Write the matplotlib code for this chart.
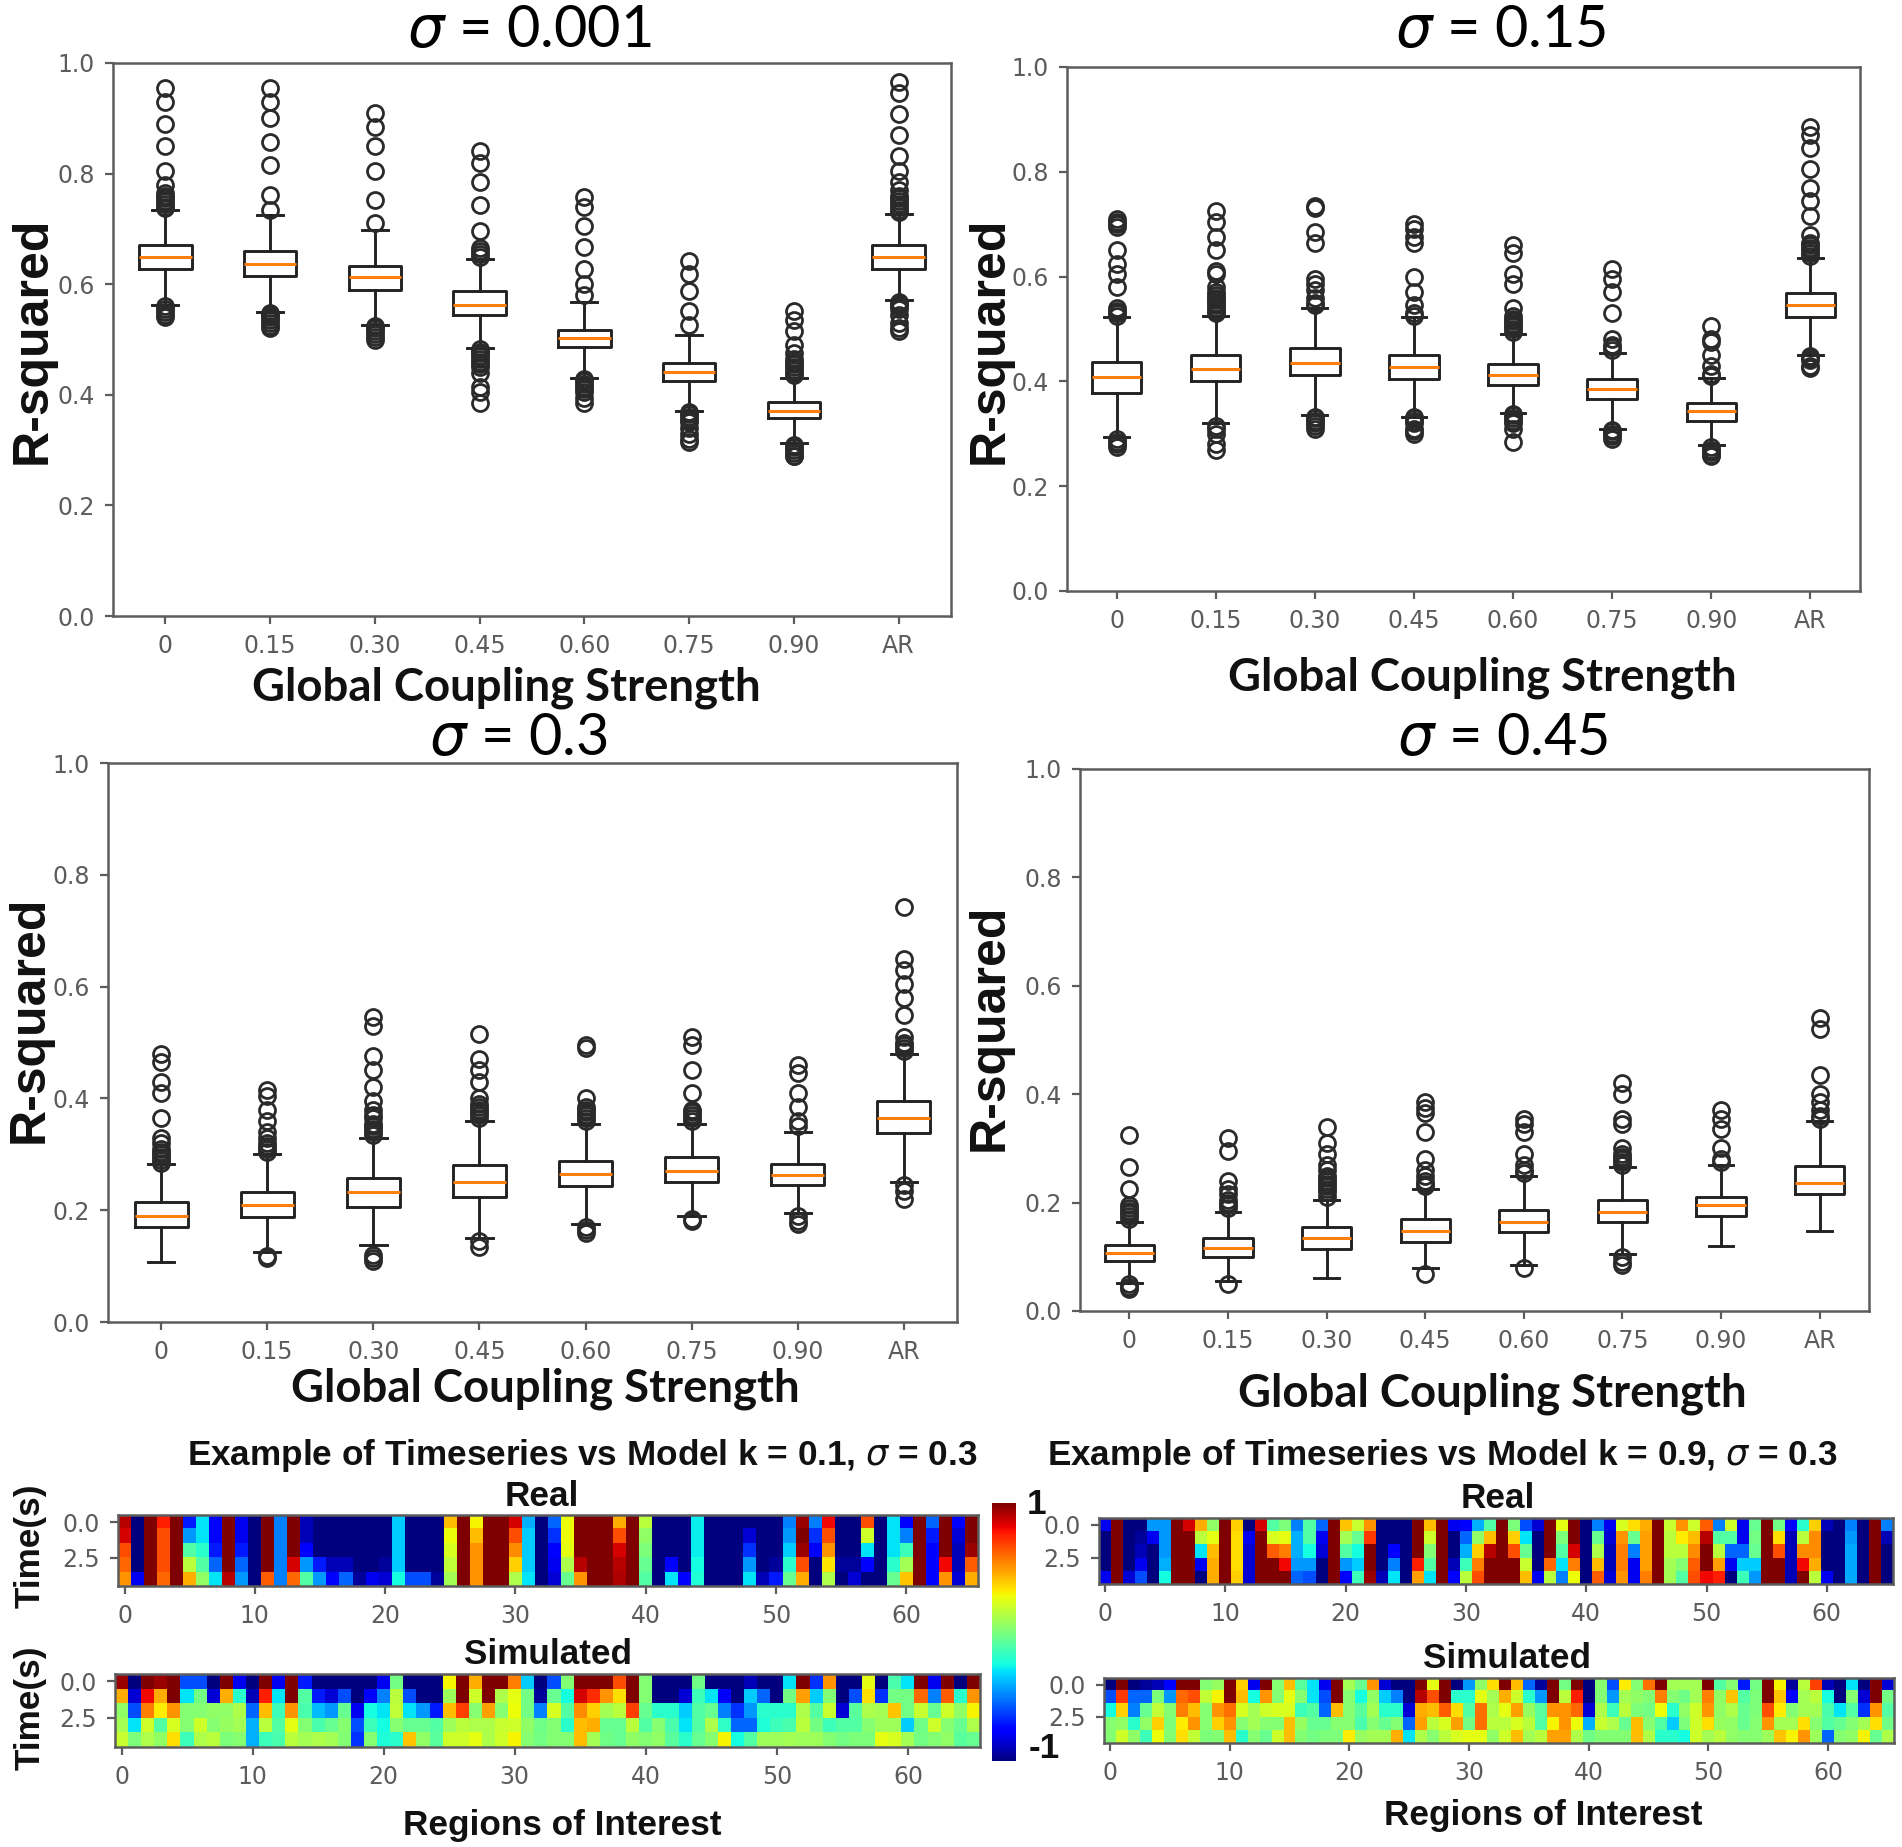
import numpy as np
import matplotlib
matplotlib.use("Agg")
import matplotlib.pyplot as plt

W, H = 1902, 1847
categories = ["0", "0.15", "0.30", "0.45", "0.60", "0.75", "0.90", "AR"]

# ---- box statistics: one list per quantity, one entry per category
p1_med = [.650, .637, .613, .562, .503, .441, .371, .650]
p1_q1 = [.627, .615, .590, .544, .486, .425, .358, .627]
p1_q3 = [.670, .660, .633, .587, .518, .458, .387, .670]
p1_lo = [.563, .550, .527, .484, .430, .371, .312, .571]
p1_hi = [.735, .725, .698, .645, .567, .508, .431, .727]
p1_fl = [
    [.955, .93, .89, .85, .805, .78, .765, .76, .755, .75, .745, .74, .737, .56, .555, .55, .545, .54],
    [.955, .93, .90, .858, .815, .762, .735, .548, .545, .54, .535, .53, .525, .52],
    [.91, .885, .85, .805, .752, .71, .525, .522, .52, .515, .51, .505, .50],
    [.84, .82, .785, .743, .697, .665, .66, .655, .65, .482, .478, .475, .47, .465, .46, .455, .45, .44, .415, .405, .385],
    [.757, .74, .705, .667, .628, .60, .58, .428, .425, .42, .415, .41, .405, .395, .385],
    [.642, .618, .587, .552, .526, .369, .365, .36, .355, .35, .34, .33, .32, .315],
    [.552, .535, .515, .49, .475, .465, .46, .455, .45, .445, .44, .435, .31, .305, .30, .295, .29, .29],
    [.965, .945, .908, .87, .832, .805, .785, .77, .76, .755, .75, .745, .74, .735, .73, .568, .565, .56, .555, .545, .53, .52, .515],
]

p2_med = [.408, .423, .436, .427, .413, .386, .343, .545]
p2_q1 = [.377, .400, .413, .405, .394, .367, .325, .523]
p2_q3 = [.437, .450, .463, .450, .433, .404, .358, .568]
p2_lo = [.293, .320, .335, .333, .340, .310, .278, .450]
p2_hi = [.522, .525, .540, .523, .490, .455, .407, .635]
p2_fl = [
    [.71, .705, .70, .695, .65, .625, .605, .58, .54, .535, .53, .525, .29, .285, .28, .275],
    [.725, .705, .675, .65, .61, .605, .58, .57, .565, .56, .555, .55, .545, .54, .535, .53, .315, .31, .30, .28, .27],
    [.735, .73, .685, .665, .595, .585, .575, .56, .55, .545, .333, .33, .325, .32, .315, .31],
    [.70, .69, .675, .665, .60, .57, .545, .53, .525, .332, .33, .325, .32, .31, .305, .30],
    [.66, .645, .605, .585, .54, .525, .52, .515, .51, .505, .50, .495, .338, .335, .33, .325, .32, .31, .285],
    [.615, .595, .57, .53, .48, .47, .465, .46, .308, .305, .30, .295, .29],
    [.505, .48, .475, .45, .43, .415, .41, .275, .27, .265, .26, .258],
    [.885, .87, .845, .805, .77, .745, .715, .68, .665, .66, .655, .65, .645, .64, .448, .445, .44, .43, .425],
]

p3_med = [.190, .210, .232, .250, .265, .270, .263, .365]
p3_q1 = [.170, .187, .205, .223, .243, .250, .245, .338]
p3_q3 = [.215, .233, .257, .280, .288, .295, .283, .395]
p3_lo = [.108, .125, .137, .150, .175, .190, .195, .250]
p3_hi = [.283, .300, .330, .360, .355, .355, .340, .480]
p3_fl = [
    [.48, .465, .43, .41, .365, .33, .32, .31, .305, .30, .295, .29, .285],
    [.415, .405, .38, .36, .34, .33, .32, .315, .31, .305, .118, .115],
    [.545, .53, .475, .45, .42, .395, .38, .37, .365, .355, .35, .345, .34, .335, .12, .115, .11],
    [.515, .47, .45, .43, .40, .39, .385, .38, .375, .37, .365, .145, .135],
    [.495, .49, .40, .385, .38, .375, .37, .365, .36, .17, .165, .16],
    [.51, .495, .45, .41, .38, .375, .37, .365, .36, .185, .18],
    [.46, .445, .41, .385, .36, .35, .19, .18, .175],
    [.743, .65, .63, .605, .58, .55, .51, .50, .495, .49, .485, .245, .235, .22],
]

p4_med = [.107, .117, .135, .147, .165, .182, .195, .237]
p4_q1 = [.092, .100, .115, .128, .145, .165, .175, .215]
p4_q3 = [.122, .134, .155, .170, .187, .205, .210, .267]
p4_lo = [.052, .055, .060, .080, .085, .105, .120, .147]
p4_hi = [.165, .182, .205, .225, .250, .265, .270, .350]
p4_fl = [
    [.325, .265, .225, .195, .19, .185, .18, .175, .17, .05, .045, .04],
    [.32, .295, .24, .225, .215, .205, .20, .195, .19, .05],
    [.34, .31, .29, .27, .26, .25, .245, .24, .235, .23, .225, .22, .21],
    [.385, .375, .365, .33, .28, .26, .25, .24, .235, .23, .068],
    [.355, .345, .33, .29, .27, .26, .255, .08],
    [.42, .40, .355, .345, .30, .29, .285, .28, .275, .27, .10, .09, .085],
    [.37, .355, .335, .30, .28, .275],
    [.54, .52, .435, .40, .385, .37, .36, .355],
]

# ---- heat maps: one inner list per region (column), top to bottom over 5 time steps
real_a = [
 [.9,.85,.65,.6,.5],[-1,-1,-1,-1,-.8],[1,1,1,1,1],[.75,.65,.65,.65,.6],[1,1,1,1,1],
 [-.7,-.45,-.1,.15,.45],[-.3,-.3,-.2,-.1,.05],[-.75,-.75,-.7,-.55,-.3],[1,1,1,1,.9],[-.8,-.8,-.7,-.55,-.45],
 [-1,-1,-1,-1,-1],[1,1,1,1,.62],[-.5,-.5,-.5,-.5,-.5],[1,1,1,.85,.6],[-.9,-.9,-.75,-.45,-.1],
 [-1,-1,-1,-.7,-.45],[-1,-1,-1,-.9,-.75],[-1,-1,-1,-.9,-.55],[-1,-1,-1,-1,-.95],[-1,-1,-1,-1,-.8],
 [-1,-1,-1,-.95,-.85],[-.35,-.35,-.35,-.35,-.25],[-1,-1,-1,-1,-.6],[-1,-1,-1,-1,-.6],[-1,-1,-1,-1,-.95],
 [.42,.28,.22,.17,.1],[1,1,1,1,1],[.3,.42,.5,.5,.5],[1,1,1,1,1],[1,1,1,1,1],
 [.85,.65,.52,.38,.12],[-.4,-.35,-.35,-.35,-.3],[-1,-1,-1,-1,-1],[-.55,-.65,-.75,-.8,-.85],[.28,.28,.25,.12,-.05],
 [1,1,1,.9,.5],[1,1,1,1,1],[1,1,1,1,1],[.45,.65,.85,.9,.92],[1,1,1,1,1],
 [.15,.05,0,-.05,-.1],[-1,-1,-1,-1,-1],[-1,-1,-1,-.75,-.3],[-1,-1,-1,-1,-.75],[-.28,-.28,-.28,-.25,-.22],
 [-1,-1,-1,-1,-1],[-1,-1,-1,-1,-1],[-1,-1,-1,-1,-1],[-1,-.85,-.65,-.45,-.3],[-1,-1,-1,-1,-.9],
 [-1,-1,-1,-.95,-.7],[-.5,-.45,-.35,-.2,-.05],[.95,1,.95,.65,.45],[-.5,-.65,-.75,-1,-1],[.8,.65,.5,.33,.12],
 [-1,-1,-1,-.95,-1],[-1,-1,-1,-.95,-.85],[.65,.2,-.3,-.75,-1],[-1,-1,-1,-1,-1],[-.3,-.3,-.3,-.2,-.05],
 [-.75,-.5,-.15,.1,.4],[1,1,1,1,1],[-.55,-.7,-.75,-.75,-.75],[1,1,1,.8,.5],[-.75,-.85,-.9,-.9,-.85],
 [1,1,.95,.62,.45],
]
sim_a = [
 [.95,.45,.05,.1,.18],[-1,-.85,-.6,-.3,0],[1,.8,.55,.2,.12],[.95,.45,.32,-.1,.05],[1,1,.5,.22,.35],
 [-.6,-.3,.02,.03,-.15],[-.6,-.02,.03,.2,.12],[-1,-.85,.05,.03,.15],[1,.45,.05,.07,0],[-.8,-.2,.12,.1,.03],
 [-1,-.9,-.55,-.4,-.4],[1,.75,.42,.15,-.15],[-.8,-.3,-.15,-.1,-.12],[1,1,.5,.25,.15],[-.7,-.1,-.12,.02,.1],
 [-1,-.7,-.38,-.12,.12],[-1,-.85,-.45,-.05,.1],[-1,-.6,-.05,.03,.02],[-1,-1,-.8,-.6,-.65],[-1,-.75,-.25,-.15,.03],
 [-.8,-.5,-.3,-.25,-.22],[-.02,.15,.17,.03,-.2],[-1,-.6,-.3,-.05,.4],[-1,-1,-.45,-.05,.05],[-1,-1,-.7,-.1,-.08],
 [.3,.08,.42,.08,.2],[1,1,.68,.15,.2],[.45,.2,.03,.12,.25],[1,1,.48,.12,.12],[1,.12,.03,.18,.2],
 [.55,.25,.28,.2,.3],[-.35,-.02,-.02,.05,.03],[-1,-.95,-.5,-.03,-.02],[-.6,-.05,.22,.02,.02],[.02,-.25,-.1,-.2,.02],
 [1,.85,.52,.42,.42],[1,.72,.38,.45,.1],[1,.5,.1,-.05,-.03],[.65,.35,.15,-.05,-.05],[1,1,.68,.15,.05],
 [.02,.02,-.05,-.1,.02],[-1,-1,-.2,.03,.05],[-1,-1,-.2,-.12,-.08],[-1,-.85,-.35,-.3,-.2],[-.03,-.15,-.1,-.1,-.05],
 [-1,-.3,-.05,.12,.03],[-1,-.75,-.5,-.18,.3],[-1,-1,-.65,-.55,-.25],[-.9,-.35,-.45,-.55,-.1],[-1,-.55,-.2,-.22,.08],
 [-1,-1,-.2,-.15,.08],[-.3,-.02,-.2,-.12,.1],[1,.48,.12,.15,.08],[-.65,-.35,-.1,-.02,.08],[.5,.02,.18,-.15,.02],
 [-1,-1,-.85,-.1,-.02],[-1,-.6,-.08,-.1,0],[.25,.35,.12,.03,0],[-1,-.65,.1,.08,.25],[-.12,-.02,.4,.08,.22],
 [-.3,-.02,-.02,-.35,.1],[1,.6,.18,-.03,-.02],[-.8,-.5,-.05,.2,.02],[1,.62,.2,.03,.05],[-1,-.2,.05,-.05,-.08],
 [1,.5,.3,.12,-.05],
]
real_b = [
 [-.8,-1,-1,-1,-.8],[1,1,1,1,1],[-1,-1,-1,-1,-.85],[-1,-.95,-.9,-.8,-.6],[-.45,-.8,-1,-1,-1],
 [-.45,-.45,-.45,-.4,-.25],[1,1,1,1,1],[.85,1,1,1,1],[.45,.15,-.3,-.8,-1],[.05,.25,.42,.45,.45],
 [1,1,1,1,1],[.38,.35,.35,.35,.38],[-1,-.8,-.85,-.85,-.85],[.85,1,1,1,1],[-.1,.22,.62,1,1],
 [0,.25,.55,.8,1],[-.5,-.4,-.4,-.45,-.55],[-.1,-.1,-.25,-.45,-.6],[-.55,-.8,-.85,-1,-1],[1,1,1,1,1],
 [.4,.1,-.1,-.45,-.75],[.18,-.05,-.25,-.35,-.15],[.5,.7,1,1,.95],[-1,-1,-1,-1,-.9],[-1,-1,-.75,-.5,-.3],
 [-1,-1,-1,-1,-1],[1,1,1,.75,.48],[.42,.2,.02,-.1,-.3],[1,1,1,1,1],[-.8,-1,-1,-.9,-.75],
 [-.75,-.55,-.4,-.15,.15],[-.4,.05,.38,.55,.65],[-.1,.42,.9,1,1],[1,1,1,1,1],[0,.38,.65,1,1],
 [-.6,-.3,-.05,.18,.42],[-.85,-1,-1,-1,-.8],[1,1,1,.6,.15],[.25,0,-.1,-.3,-.5],[1,1,.85,.55,.28],
 [-1,-1,-1,-1,-1],[-.5,-.05,.12,.42,.62],[-.8,-.85,-.9,-.9,-.85],[.22,.5,.55,.55,.5],[.35,-.05,-.5,-.8,-.8],
 [.45,.48,.48,.48,.55],[1,1,1,1,1],[.18,.15,.15,.1,.1],[.5,.32,.15,.02,-.1],[.2,.42,.52,.62,.65],
 [.62,.9,1,1,.8],[-.5,-.1,.15,.48,.75],[.2,-.1,-.55,-.8,-1],[-.8,-.8,-.55,-.35,-.15],[-.05,-.02,-.05,-.35,-.45],
 [1,1,1,1,1],[-.02,.35,.65,1,1],[-.75,-.9,-.9,-.9,-.9],[-.2,.15,.52,.8,1],[.38,.52,.52,.45,.15],
 [-.9,-1,-1,-1,-.8],[-1,-1,-1,-1,-1],[-.5,-.45,-.42,-.42,-.42],[-1,-1,-1,-1,-1],[1,1,1,1,1],
 [-.5,-.9,-1,-1,-1],
]
sim_b = [
 [-1,-.6,-.25,.03,.02],[1,.7,.38,.05,.2],[-1,-.55,-.5,-.2,.05],[-.95,-.55,-.05,.05,-.15],[-.9,0,.17,.38,.28],
 [-.75,-.45,.02,0,.02],[1,.6,.55,.32,.35],[1,.65,.42,.5,.17],[.02,.17,.02,.03,0],[.07,.3,.5,.38,.02],
 [1,1,.58,.5,.42],[.38,.42,.22,.03,-.2],[-.8,-.25,.1,.1,.03],[1,.5,.2,.03,-.05],[.03,.02,.22,.02,.2],
 [.42,.25,.22,.42,.42],[-.08,.03,-.15,.07,.02],[-.3,-.3,-.1,-.05,-.02],[-.8,-.6,-.55,-.05,0],[1,1,.42,.03,0],
 [.1,.03,.03,.03,.32],[-.05,-.25,-.08,-.12,.07],[.5,.05,.1,.03,.1],[-.85,-.35,-.2,-.05,.1],[-1,-.5,-.2,.02,.45],
 [-1,-1,-.85,-.55,-.3],[1,.9,.45,.48,.12],[.25,.65,.42,.15,.03],[1,1,.62,.22,.15],[-1,-.2,.35,.48,.22],
 [-.45,-.2,-.1,-.02,.25],[.05,.25,.58,.58,.25],[.35,.1,.12,.15,.05],[1,.45,.25,.15,.2],[.42,.2,.48,.22,.42],
 [-.55,-.2,.07,.15,.1],[-.95,-.45,-.08,-.1,.15],[1,1,.5,.3,.48],[-.02,.15,.5,.5,.48],[1,.75,.6,.28,.12],
 [-1,-1,-.85,-.4,-.03],[.03,.02,.12,.18,.02],[-.6,-.45,-.15,.12,.02],[.32,.1,.15,-.05,.02],[.02,.05,0,.42,.42],
 [.58,.02,-.02,.03,.12],[1,.55,.28,-.1,-.2],[.1,.03,-.2,-.35,-.2],[.1,-.03,.05,0,-.25],[.1,.1,.2,.2,.2],
 [1,.55,.5,.35,.1],[-.1,.05,.05,.07,.15],[.03,.4,.12,.05,.05],[-.7,-.1,-.05,-.05,.03],[-.02,0,0,.03,.03],
 [1,1,.65,.5,.08],[.3,.4,.32,.1,.4],[-.95,-.75,.02,.1,.3],[.15,.1,.1,.35,.5],[.68,.15,.1,.03,.08],
 [-.9,-.25,-.12,-.1,-.55],[-1,-1,-.3,-.05,.03],[-.3,.03,-.1,.02,.05],[-1,-.85,-.65,.1,.3],[1,1,.5,.35,-.05],
 [-.85,-.02,-.1,-.03,.12],
]

GREY = "#5c5c5c"
plt.rcParams["font.family"] = "DejaVu Sans"
plt.rcParams["mathtext.fontset"] = "dejavusans"
fig = plt.figure(figsize=(W / 100, H / 100), dpi=100, facecolor="white")


def px_axes(x0, y0, x1, y1):
    return fig.add_axes([x0 / W, 1 - y1 / H, (x1 - x0) / W, (y1 - y0) / H])


def txt(x, y, s, **kw):
    kw.setdefault("ha", "center")
    kw.setdefault("va", "center")
    return fig.text(x / W, 1 - y / H, s, **kw)


def style(ax):
    for s in ax.spines.values():
        s.set_color(GREY)
        s.set_linewidth(1.8)
    ax.tick_params(colors=GREY, labelsize=17, width=1.6, length=6, pad=7)


def box_panel(rect, med, q1, q3, lo, hi, fl):
    ax = px_axes(*rect)
    stats = [dict(med=m, q1=a, q3=b, whislo=l, whishi=h, fliers=f)
             for m, a, b, l, h, f in zip(med, q1, q3, lo, hi, fl)]
    ax.bxp(stats, widths=0.5,
           boxprops=dict(color="#222222", linewidth=2.1),
           whiskerprops=dict(color="#222222", linewidth=2.1),
           capprops=dict(color="#222222", linewidth=2.1),
           medianprops=dict(color="#ff7f0e", linewidth=2.2),
           flierprops=dict(marker="o", markersize=11.5, markerfacecolor="none",
                           markeredgecolor="#2a2a2a", markeredgewidth=2.0))
    ax.set_xlim(0.5, 8.5)
    ax.set_ylim(0, 1)
    ax.set_xticks(range(1, 9))
    ax.set_xticklabels(categories)
    ax.set_yticks([0, .2, .4, .6, .8, 1.0])
    style(ax)
    return ax


box_panel((113, 63, 951, 616), p1_med, p1_q1, p1_q3, p1_lo, p1_hi, p1_fl)
box_panel((1067, 67, 1860, 591), p2_med, p2_q1, p2_q3, p2_lo, p2_hi, p2_fl)
box_panel((108, 763, 957, 1322), p3_med, p3_q1, p3_q3, p3_lo, p3_hi, p3_fl)
box_panel((1080, 769, 1869, 1311), p4_med, p4_q1, p4_q3, p4_lo, p4_hi, p4_fl)

title_kw = dict(family="Lato", fontsize=41.5, color="black")
txt(529, 30, r"$\sigma$ = 0.001", **title_kw)
txt(1501, 30, r"$\sigma$ = 0.15", **title_kw)
txt(518, 739, r"$\sigma$ = 0.3", **title_kw)
txt(1503, 738, r"$\sigma$ = 0.45", **title_kw)

xl_kw = dict(family="Lato", fontsize=32.8, fontweight="bold", color="#111111")
for x, y in [(506, 688), (1482, 678), (545, 1389), (1492, 1394)]:
    txt(x, y, "Global Coupling Strength", **xl_kw)

yl_kw = dict(family="Liberation Sans", fontsize=36, fontweight="bold", rotation=90, color="#111111")
for x, y in [(33, 340), (990, 340), (30, 1019), (990, 1027)]:
    txt(x, y, "R-squared", **yl_kw)


def heat(rect, cols):
    ax = px_axes(*rect)
    im = ax.imshow(np.array(cols).T, cmap="jet", vmin=-1, vmax=1, aspect="auto",
                   interpolation="nearest")
    ax.set_xticks(range(0, 61, 10))
    ax.set_yticks([0, 2.5])
    ax.set_yticklabels(["0.0", "2.5"])
    style(ax)
    return im


im = heat((118, 1515, 978, 1586), real_a)
heat((115, 1674, 980, 1747), sim_a)
heat((1099, 1518, 1893, 1584), real_b)
heat((1104, 1678, 1894, 1743), sim_b)

cax = px_axes(992, 1503, 1016, 1761)
cb = fig.colorbar(im, cax=cax)
cb.set_ticks([])
cb.outline.set_visible(False)

hm_kw = dict(family="Liberation Sans", fontsize=25.3, fontweight="bold", color="#111111")
txt(582, 1455, r"Example of Timeseries vs Model k = 0.1, $\sigma$ = 0.3", **hm_kw)
txt(1442, 1455, r"Example of Timeseries vs Model k = 0.9, $\sigma$ = 0.3", **hm_kw)
txt(542, 1497, "Real", **hm_kw)
txt(548, 1655, "Simulated", **hm_kw)
txt(1498, 1499, "Real", **hm_kw)
txt(1507, 1658, "Simulated", **hm_kw)
txt(562, 1825, "Regions of Interest", **hm_kw)
txt(1543, 1816, "Regions of Interest", **hm_kw)
txt(30, 1546, "Time(s)", rotation=90, **hm_kw)
txt(30, 1708, "Time(s)", rotation=90, **hm_kw)
txt(1037, 1504, "1", **hm_kw)
txt(1044, 1749, "-1", **hm_kw)

fig.savefig("out.png", dpi=100)
